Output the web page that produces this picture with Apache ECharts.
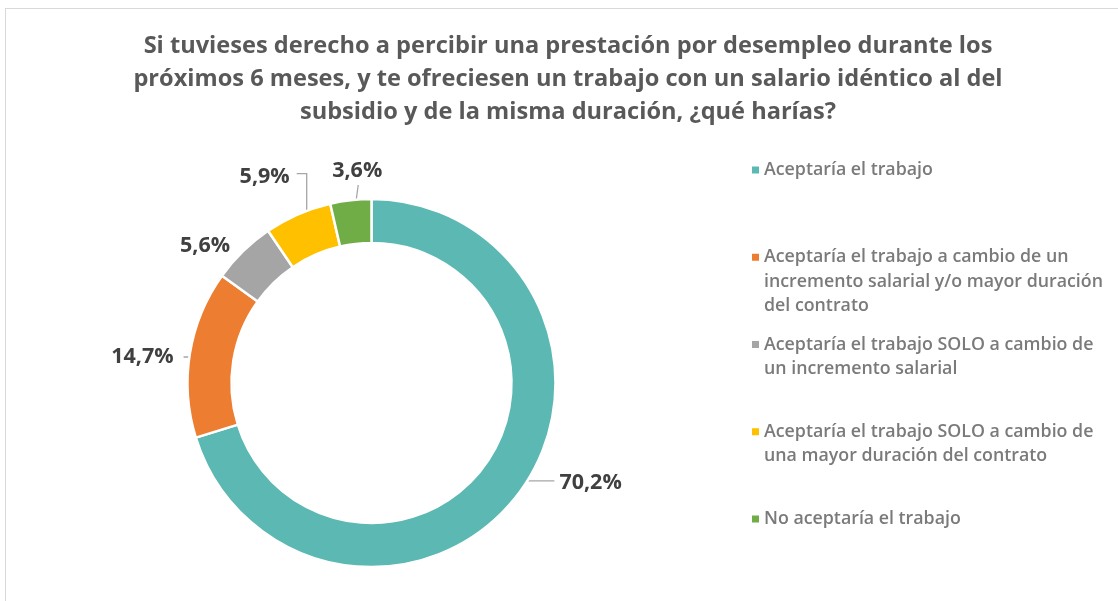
<!DOCTYPE html>
<html>
<head>
<meta charset="utf-8">
<title>Prestación por desempleo</title>
<script src="https://cdn.jsdelivr.net/npm/echarts@6/dist/echarts.min.js"></script>
<style>
  html, body { margin: 0; padding: 0; background: #fff; overflow: hidden; }
  #chart { width: 1118px; height: 601px; }
  #frame {
    position: absolute; left: 5px; top: 8px; width: 1300px; height: 800px;
    border: 1px solid #d9d9d9; pointer-events: none;
  }
</style>
</head>
<body>
<div id="chart"></div>
<div id="frame"></div>
<script>
// Datos
const titleText = 'Si tuvieses derecho a percibir una prestación por desempleo durante los\npróximos 6 meses, y te ofreciesen un trabajo con un salario idéntico al del\nsubsidio y de la misma duración, ¿qué harías?';

const categories = [
  'Aceptaría el trabajo',
  'Aceptaría el trabajo a cambio de un\nincremento salarial y/o mayor duración\ndel contrato',
  'Aceptaría el trabajo SOLO a cambio de\nun incremento salarial',
  'Aceptaría el trabajo SOLO a cambio de\nuna mayor duración del contrato',
  'No aceptaría el trabajo'
];
const values = [70.2, 14.7, 5.6, 5.9, 3.6];
const colors = ['#5cb8b2', '#ed7d31', '#a5a5a5', '#ffc000', '#70ad47'];

// Ajustes de las líneas guía (estilo, no datos)
const leader = [
  { length: 3, length2: 50, distance: 5 },
  { length: 1, length2: 27, distance: 10 },
  { length: 29, length2: 0, distance: 8, hide: true },
  { length: 10, length2: 0, distance: 5 },
  { length: 10, length2: 0, distance: 5 }
];

const center = [371.5, 383];
const lineH = 24.5;
const fontFam = '"Open Sans", Lato, sans-serif';

const chart = echarts.init(document.getElementById('chart'));

const fmtPct = (v) => v.toFixed(1).replace('.', ',') + '%';

// Cada entrada de la leyenda ocupa 5 líneas y la primera línea de texto queda
// en el centro, así el icono se alinea con ella.
const legendText = (name) => {
  const n = name.split('\n').length;
  return '\n\n' + name + '\n'.repeat(3 - n) + (n < 3 ? ' ' : '');
};

const option = {
  backgroundColor: '#fff',
  animation: false,
  title: {
    text: titleText,
    left: 568,
    top: 30,
    padding: 0,
    textAlign: 'center',
    textStyle: {
      fontFamily: fontFam,
      fontWeight: 'bold',
      fontSize: 23.6,
      lineHeight: 33,
      color: '#595959'
    }
  },
  legend: {
    orient: 'vertical',
    left: 752,
    top: 170 - 2.5 * lineH,
    padding: 0,
    itemGap: 87.25 - 5 * lineH,
    itemWidth: 7,
    itemHeight: 7,
    icon: 'rect',
    itemStyle: { borderWidth: 0 },
    formatter: legendText,
    textStyle: {
      fontFamily: fontFam,
      fontWeight: 600,
      fontSize: 17.8,
      lineHeight: lineH,
      color: '#7a7a7a'
    },
    data: categories
  },
  series: [
    {
      type: 'pie',
      center: center,
      radius: [140, 184],
      startAngle: 90,
      clockwise: true,
      avoidLabelOverlap: false,
      label: { show: false },
      labelLine: { show: false },
      itemStyle: { borderColor: '#fff', borderWidth: 2.5 },
      emphasis: { disabled: true },
      data: categories.map((name, i) => ({
        name: name,
        value: values[i],
        itemStyle: { color: colors[i] }
      }))
    },
    {
      // capa transparente: las líneas guía salen del centro del anillo
      type: 'pie',
      center: center,
      radius: [0, 162],
      startAngle: 90,
      clockwise: true,
      silent: true,
      legendHoverLink: false,
      avoidLabelOverlap: false,
      itemStyle: { color: 'rgba(0,0,0,0)', borderWidth: 0 },
      emphasis: { disabled: true },
      label: {
        show: true,
        position: 'outside',
        formatter: (p) => fmtPct(p.value),
        fontFamily: fontFam,
        fontWeight: 'bold',
        fontSize: 21.5,
        color: '#404040'
      },
      labelLine: {
        show: true,
        minTurnAngle: 0,
        lineStyle: { color: '#a6a6a6', width: 1.3 }
      },
      labelLayout: (params) => {
        const pts = params.labelLinePoints;
        if (!pts) return {};
        const s = pts[0];
        if (params.dataIndex === 0) {
          return { x: pts[2][0] + 5, y: pts[2][1] + 2, labelLinePoints: pts };
        }
        if (params.dataIndex === 3) {
          return {
            x: s[0] - 17,
            y: s[1] - 58,
            labelLinePoints: [s, [s[0], s[1] - 61], [s[0] - 10, s[1] - 61]]
          };
        }
        if (params.dataIndex === 4) {
          return {
            x: s[0] + 4,
            y: s[1] - 51,
            align: 'center',
            labelLinePoints: [s, [s[0] + 5, s[1] - 37], [s[0] + 5, s[1] - 37]]
          };
        }
        return {};
      },
      data: categories.map((name, i) => ({
        name: name,
        value: values[i],
        label: { distanceToLabelLine: leader[i].distance },
        labelLine: {
          show: !leader[i].hide,
          length: leader[i].length,
          length2: leader[i].length2
        }
      }))
    }
  ]
};

chart.setOption(option);
</script>
</body>
</html>
